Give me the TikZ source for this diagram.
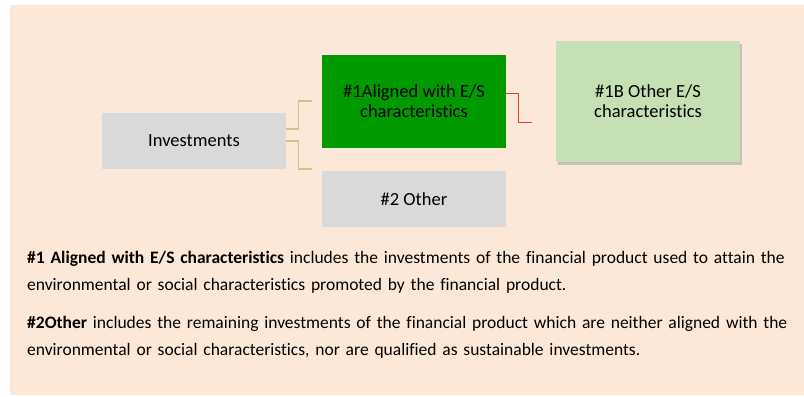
\documentclass[tikz,border=0pt]{standalone}
\usepackage{fontspec}
\setmainfont{Carlito}[RawFeature=-liga]
\usetikzlibrary{shadows}

\definecolor{peach}{HTML}{FBE8D8}
\definecolor{boxgray}{HTML}{D9D9D9}
\definecolor{alignedgreen}{HTML}{009900}
\definecolor{othergreen}{HTML}{C5E0B4}
\definecolor{tanline}{HTML}{D2C28A}
\definecolor{redline}{HTML}{D9452A}

\begin{document}
\begin{tikzpicture}[
		x=1bp, y=-1bp,
		catbox/.style={
		% The shape:
		rectangle,
		% The size:
		minimum width=184bp,
		inner sep=0pt,
		% The filling:
		fill=boxgray,
		% Font
		align=center,
		font=\fontsize{18.5bp}{20bp}\selectfont
    		},
		branch/.style={draw=tanline, line width=1.3bp},
		subbranch/.style={draw=redline, line width=1bp}
	]
	% background
	\useasboundingbox (0,0) rectangle (804,396);
	\fill[peach] (10,5) rectangle (804,395);

	\node (INV)[catbox, minimum height=56bp] at (194,141) {Investments};
	\node (AL)[catbox, minimum height=93bp, fill=alignedgreen] at (414,101.5) {\#1Aligned with E/S\\characteristics};
	\node (OT)[catbox, minimum height=56bp] at (414,199) {\#2 Other};
	\node (OB)[catbox, minimum height=121bp, fill=othergreen,
		drop shadow={shadow xshift=2bp, shadow yshift=-3bp, fill=black!35, opacity=.6}] at (648,101.5) {\#1B Other E/S\\characteristics};

	\coordinate (E1) at (312,101);
	\coordinate (E2) at (312,169);
	\coordinate (E3) at (532,122);

  	\draw [branch] ([yshift=12bp]INV.east) -- ++(12,0) |- (E1);
  	\draw [branch] (INV.east) -- ++(12,0) |- (E2);
  	\draw [subbranch] ([yshift=8.5bp]AL.east) -- ++(12,0) |- (E3);

	\node (TXT)[anchor=north west, text width=770bp, align=left, inner sep=0pt,
		font=\fontsize{17.5bp}{27bp}\selectfont] at (27,251) {%
		\textbf{\#1 Aligned with E/S characteristics} includes the investments of the financial product used to attain the\\environmental or social characteristics promoted by the financial product.\par
		\vspace{11bp}%
		\textbf{\#2Other} includes the remaining investments of the financial product which are neither aligned with the\\environmental or social characteristics, nor are qualified as sustainable investments.};
\end{tikzpicture}
\end{document}
